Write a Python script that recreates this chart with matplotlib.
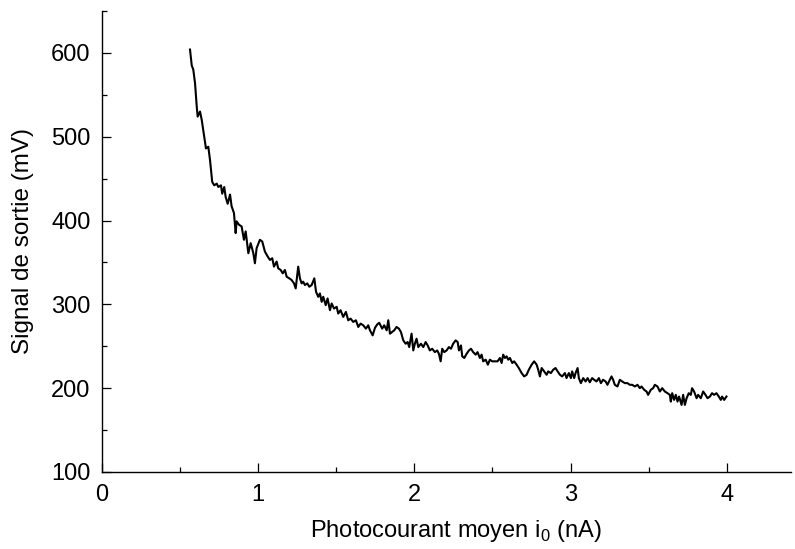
import matplotlib
matplotlib.use("Agg")
import matplotlib.pyplot as plt
from matplotlib.ticker import MultipleLocator

# photocurrent (nA) / output signal (mV)
current_na = [
    0.566, 0.577, 0.587, 0.598, 0.609, 0.615, 0.630, 0.641, 0.657, 0.668,
    0.683, 0.694, 0.708, 0.721, 0.737, 0.747, 0.764, 0.772, 0.785, 0.794,
    0.807, 0.822, 0.832, 0.847, 0.858, 0.864, 0.879, 0.896, 0.911, 0.922,
    0.939, 0.954, 0.971, 0.981, 0.992, 1.013, 1.028, 1.045, 1.063, 1.077,
    1.092, 1.103, 1.120, 1.130, 1.146, 1.159, 1.173, 1.184, 1.201, 1.216,
    1.231, 1.242, 1.258, 1.269, 1.280, 1.290, 1.301, 1.316, 1.329, 1.344,
    1.361, 1.372, 1.386, 1.397, 1.408, 1.418, 1.434, 1.446, 1.461, 1.472,
    1.487, 1.504, 1.514, 1.529, 1.546, 1.563, 1.578, 1.593, 1.610, 1.627,
    1.642, 1.657, 1.674, 1.691, 1.706, 1.717, 1.734, 1.749, 1.763, 1.776,
    1.795, 1.808, 1.824, 1.834, 1.845, 1.859, 1.872, 1.887, 1.902, 1.915,
    1.930, 1.945, 1.958, 1.968, 1.983, 1.994, 2.004, 2.015, 2.026, 2.043,
    2.058, 2.073, 2.086, 2.100, 2.115, 2.132, 2.147, 2.158, 2.169, 2.179,
    2.192, 2.207, 2.222, 2.235, 2.249, 2.265, 2.278, 2.286, 2.299, 2.307,
    2.320, 2.335, 2.350, 2.363, 2.377, 2.393, 2.405, 2.420, 2.431, 2.441,
    2.457, 2.471, 2.484, 2.499, 2.516, 2.533, 2.548, 2.559, 2.569, 2.580,
    2.591, 2.601, 2.612, 2.627, 2.639, 2.655, 2.669, 2.687, 2.703, 2.719,
    2.733, 2.751, 2.767, 2.783, 2.793, 2.804, 2.815, 2.831, 2.847, 2.857,
    2.874, 2.889, 2.904, 2.917, 2.932, 2.946, 2.964, 2.974, 2.989, 3.002,
    3.010, 3.023, 3.032, 3.045, 3.053, 3.066, 3.081, 3.096, 3.109, 3.123,
    3.138, 3.151, 3.166, 3.181, 3.194, 3.208, 3.224, 3.236, 3.251, 3.262,
    3.272, 3.283, 3.300, 3.315, 3.330, 3.347, 3.364, 3.379, 3.394, 3.411,
    3.428, 3.443, 3.454, 3.471, 3.486, 3.496, 3.513, 3.528, 3.539, 3.556,
    3.571, 3.586, 3.603, 3.620, 3.635, 3.641, 3.650, 3.662, 3.673, 3.684,
    3.694, 3.710, 3.720, 3.731, 3.742, 3.756, 3.769, 3.777, 3.790, 3.806,
    3.816, 3.833, 3.848, 3.863, 3.876, 3.891, 3.905, 3.918, 3.933, 3.948,
    3.961, 3.969, 3.982, 3.997,
]
signal_mv = [
    604, 585, 580, 564, 536, 524, 530, 520, 500, 486,
    488, 472, 446, 442, 444, 440, 442, 432, 440, 428,
    420, 431, 417, 409, 385, 399, 395, 393, 377, 387,
    361, 373, 361, 349, 367, 377, 375, 363, 357, 353,
    355, 345, 351, 343, 341, 337, 341, 333, 331, 329,
    325, 319, 345, 331, 325, 327, 323, 325, 321, 323,
    331, 315, 309, 313, 303, 309, 299, 307, 293, 301,
    295, 297, 289, 293, 285, 291, 281, 283, 279, 281,
    273, 277, 275, 271, 275, 269, 263, 272, 276, 278,
    271, 275, 269, 281, 265, 267, 269, 273, 271, 267,
    257, 253, 255, 249, 265, 245, 253, 259, 249, 253,
    249, 255, 251, 245, 247, 243, 245, 241, 232, 247,
    243, 245, 249, 247, 253, 257, 255, 245, 251, 238,
    236, 241, 245, 247, 243, 240, 243, 236, 240, 232,
    234, 228, 234, 232, 232, 232, 236, 230, 240, 236,
    238, 234, 236, 230, 232, 228, 224, 218, 214, 216,
    222, 228, 232, 228, 222, 214, 224, 220, 216, 220,
    218, 222, 224, 220, 216, 214, 218, 212, 218, 212,
    220, 212, 218, 224, 212, 206, 212, 208, 212, 207,
    212, 210, 208, 212, 206, 210, 208, 204, 210, 214,
    210, 204, 202, 210, 208, 206, 206, 204, 204, 202,
    204, 200, 202, 198, 196, 192, 198, 200, 204, 202,
    196, 200, 196, 194, 192, 184, 194, 186, 192, 184,
    190, 180, 192, 180, 188, 194, 192, 200, 196, 188,
    192, 188, 196, 192, 188, 190, 194, 192, 194, 190,
    186, 190, 186, 190,
]

plt.rcParams['font.family'] = ['Liberation Sans', 'DejaVu Sans']
plt.rcParams['mathtext.fontset'] = 'custom'
plt.rcParams['mathtext.rm'] = 'Liberation Sans'

fig = plt.figure(figsize=(7.95, 5.49), dpi=100)
ax = fig.add_axes([0.1277, 0.1403, 0.8673, 0.8397])

ax.plot(current_na, signal_mv, color='black', lw=1.5)

ax.set_xlim(0, 4.41)
ax.set_ylim(100, 650)
ax.xaxis.set_major_locator(MultipleLocator(1))
ax.xaxis.set_minor_locator(MultipleLocator(0.5))
ax.yaxis.set_major_locator(MultipleLocator(100))
ax.yaxis.set_minor_locator(MultipleLocator(50))

ax.spines['top'].set_visible(False)
ax.spines['right'].set_visible(False)
for s in ('left', 'bottom'):
    ax.spines[s].set_linewidth(1.0)
ax.tick_params(which='both', direction='in', width=0.9, labelsize=17)
ax.tick_params(which='major', length=6.5)
ax.tick_params(which='minor', length=3.5)
ax.tick_params(axis='y', pad=8)
ax.tick_params(axis='x', pad=9)

ax.set_xlabel(r'Photocourant moyen i$_{\mathrm{0}}$ (nA)', fontsize=17)
ax.set_ylabel('Signal de sortie (mV)', fontsize=17.5, labelpad=12)
ax.xaxis.set_label_coords(0.514, -0.1)

fig.savefig('out.png', dpi=100)
